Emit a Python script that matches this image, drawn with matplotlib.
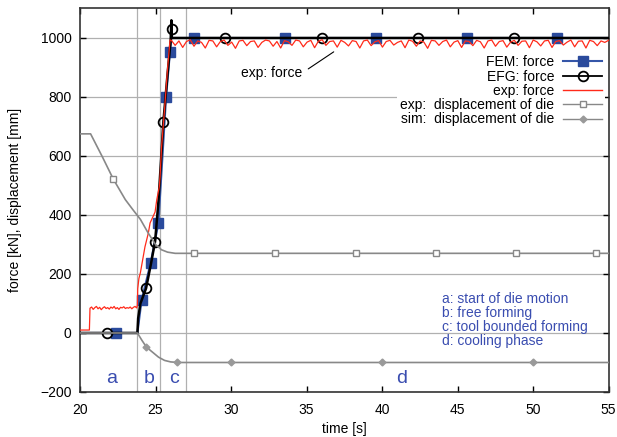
"""
Force and die displacement over time: FEM, EFG and experiment
"""
import numpy as np
import matplotlib
matplotlib.use('Agg')
import matplotlib.pyplot as plt
from matplotlib.lines import Line2D

plt.rcParams['font.family'] = ['Liberation Sans', 'DejaVu Sans']
plt.rcParams['font.size'] = 10

# --- FEM force (line + markers)
fem_t = [20.0, 23.8, 24.08, 24.68, 25.19, 25.70, 25.96, 26.05, 55.0]
fem_f = [0, 0, 112, 238, 372, 801, 954, 1000, 1000]
fem_mk_t = [22.38, 24.08, 24.68, 25.19, 25.70, 25.96, 27.55, 33.55, 39.6, 45.6, 51.6]
fem_mk_f = [0, 112, 238, 372, 801, 954, 1000, 1000, 1000, 1000, 1000]

# --- EFG force
efg_t = [20.0, 23.8, 23.85, 24.0, 24.37, 24.7, 24.97, 25.2, 25.52, 25.8, 26.0, 26.05, 26.08, 55.0]
efg_f = [0, 0, 50, 100, 151, 235, 310, 450, 716, 880, 990, 1060, 1000, 1000]
efg_mk_t = [21.76, 24.37, 24.97, 25.52, 26.07, 29.6, 36.0, 42.4, 48.75]
efg_mk_f = [0, 151, 310, 716, 1029, 1000, 1000, 1000, 1000]

exp_start_t = [20.0, 20.62]
exp_start_f = [10, 10]
exp_pre_f = [84, 88, 80, 86, 90, 82, 87, 79, 85, 89, 83, 86, 81, 88, 84, 90,
             82, 86, 80, 87, 85, 89, 83, 86, 84, 88, 82, 87, 90, 85]
exp_ramp_t = [23.8, 23.82, 23.9, 24.0, 24.3, 24.52, 24.64, 24.97, 25.08, 25.25,
              25.3, 25.4, 25.6, 25.78, 25.96]
exp_ramp_f = [95, 150, 185, 205, 292, 338, 373, 410, 451, 496,
              530, 631, 760, 886, 993]
exp_flat_f = [992, 975, 990, 968, 988, 994, 972, 990, 985, 966, 992, 990, 970, 988,
              993, 975, 986, 965, 990, 992, 974, 988, 990, 968, 985, 993, 990, 972,
              988, 966, 991, 987, 975, 993, 990, 970, 986, 992, 967, 989, 994, 975,
              988, 990, 969, 992, 985, 973, 991, 988, 966, 990, 993, 974, 987, 991,
              969, 988, 992, 976, 985, 990, 967, 993, 989, 972, 990, 986, 965, 992,
              990, 975, 988, 993, 970, 986, 991, 968, 990, 988, 974, 992, 987, 966,
              990, 993, 972, 988, 991, 969, 986, 992, 975, 989, 990, 967, 993, 987,
              973, 990, 992, 968, 988, 991, 976, 986, 993, 970, 989, 990, 966, 992,
              988, 974, 990, 985, 992]

# --- displacement of die
expd_t = [20.0, 20.7, 21.5, 22.2, 23.0, 23.5, 24.0, 24.5, 25.0, 25.4, 25.8, 26.3, 55.0]
expd_d = [675, 675, 595, 522, 452, 418, 385, 340, 300, 282, 274, 270, 270]
expd_mk_t = [22.2, 27.55, 32.9, 38.25, 43.6, 48.9, 54.2]
expd_mk_d = [522, 270, 270, 270, 270, 270, 270]

simd_t = [20.0, 23.8, 24.1, 24.4, 24.8, 25.2, 25.6, 26.0, 26.5, 55.0]
simd_d = [0, 0, -25, -48, -65, -82, -93, -98, -100, -100]
simd_mk_t = [24.37, 26.4, 30.0, 40.0, 50.0]
simd_mk_d = [-48, -100, -100, -100, -100]

# phase boundaries and labels
phase_x = [23.8, 25.3, 27.0]
phase_lbl = ['a', 'b', 'c', 'd']
phase_lbl_x = [22.1, 24.6, 26.2, 41.3]
phase_txt = ['a: start of die motion', 'b: free forming',
             'c: tool bounded forming', 'd: cooling phase']

blue = '#3556a8'
blue_dark = '#2a4a9c'
red = '#ff2a1a'
gray = '#888888'
txt_blue = '#3a4db0'

# build exp force series
exp_t = np.concatenate([exp_start_t, np.linspace(20.66, 23.75, len(exp_pre_f)),
                        exp_ramp_t, np.linspace(26.05, 55.0, len(exp_flat_f))])
exp_f = np.concatenate([exp_start_f, exp_pre_f, exp_ramp_f, exp_flat_f])

fig = plt.figure(figsize=(6.17, 4.37), dpi=100)
ax = fig.add_axes([0.1297, 0.1030, 0.8566, 0.8776])

# grid
for yv in [-200, 0, 200, 400, 600, 800, 1000]:
    ax.axhline(yv, color='#b0b0b0', lw=0.9, zorder=0)
for xv in phase_x:
    ax.axvline(xv, color='#b0b0b0', lw=0.9, zorder=0)

ax.plot(fem_t, fem_f, color=blue, lw=1.5, zorder=2)
ax.plot(fem_mk_t, fem_mk_f, ls='none', marker='s', ms=6.5, color=blue_dark, zorder=2)
ax.plot(efg_t, efg_f, color='black', lw=1.8, zorder=3)
ax.plot(efg_mk_t, efg_mk_f, ls='none', marker='o', ms=7, mfc='none', mec='black',
        mew=1.3, zorder=3)
ax.plot(exp_t, exp_f, color=red, lw=0.9, zorder=4)
ax.plot(expd_t, expd_d, color=gray, lw=1.2, zorder=5)
ax.plot(expd_mk_t, expd_mk_d, ls='none', marker='s', ms=5, mfc='white', mec=gray,
        mew=1.0, zorder=5)
ax.plot(simd_t, simd_d, color=gray, lw=1.2, zorder=5)
ax.plot(simd_mk_t, simd_mk_d, ls='none', marker='D', ms=3.5, color='#999999', zorder=5)

# annotation for exp force
ax.annotate('exp: force', xy=(36.8, 953), xytext=(34.7, 881), ha='right', va='center',
            arrowprops=dict(arrowstyle='-', color='black', lw=0.8, shrinkA=3, shrinkB=0,
                            relpos=(1.0, 0.5)))

# phase letters and description
for lbl, xv in zip(phase_lbl, phase_lbl_x):
    ax.text(xv, -153, lbl, color=txt_blue, fontsize=14, ha='center', va='center')
for i, s in enumerate(phase_txt):
    ax.text(44.0, 114 - 47.5 * i, s, color=txt_blue, fontsize=10, ha='left', va='center')

handles = [
    Line2D([], [], color=blue, lw=1.5, marker='s', ms=6.5, mfc=blue_dark, mec=blue_dark),
    Line2D([], [], color='black', lw=1.3, marker='o', ms=7, mfc='none', mec='black', mew=1.3),
    Line2D([], [], color=red, lw=1.0),
    Line2D([], [], color=gray, lw=1.0, marker='s', ms=5, mfc='white', mec=gray),
    Line2D([], [], color=gray, lw=1.0, marker='D', ms=3.5, mfc='#999999', mec='#999999'),
]
labels = ['FEM: force', 'EFG: force', 'exp: force',
          'exp:  displacement of die', 'sim:  displacement of die']
leg = ax.legend(handles, labels, loc='upper right', bbox_to_anchor=(0.993, 0.885),
                markerfirst=False, frameon=True, facecolor='white', edgecolor='none',
                framealpha=1, fancybox=False, borderpad=0.2, borderaxespad=0,
                handlelength=2.8, handletextpad=0.65, labelspacing=0.02)
leg.set_zorder(6)

ax.set_xlim(20, 55)
ax.set_ylim(-200, 1100)
ax.set_xticks([20, 25, 30, 35, 40, 45, 50, 55])
ax.set_yticks([-200, 0, 200, 400, 600, 800, 1000])
ax.tick_params(direction='in', top=True, right=True, length=4.5, width=1)
ax.tick_params(axis='x', pad=8)
ax.tick_params(axis='y', pad=6)
ax.set_yticklabels(['\u2212200', '0', '200', '400', '600', '800', '1000'])
for sp in ax.spines.values():
    sp.set_linewidth(1.2)
    sp.set_color('#333333')

ax.set_xlabel('time [s]')
ax.set_ylabel('force [kN], displacement [mm]')
ax.xaxis.set_label_coords(0.5, -0.078)
ax.yaxis.set_label_coords(-0.11, 0.5)

fig.savefig('out.png', dpi=100)
